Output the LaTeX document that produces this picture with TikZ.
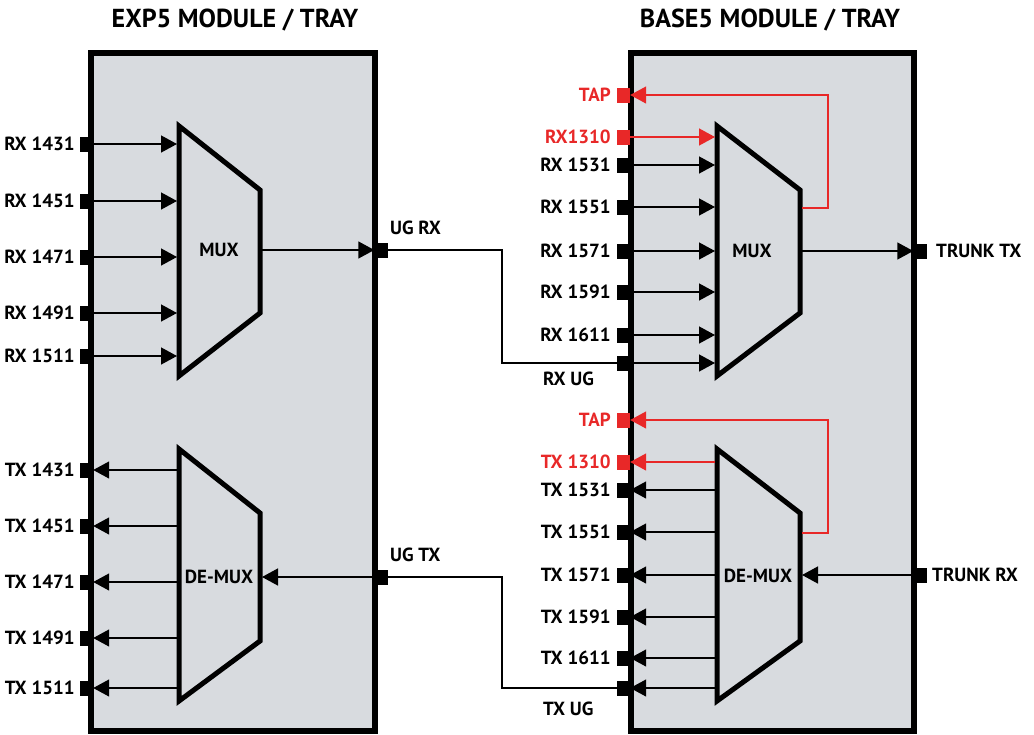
\documentclass[tikz,border=0pt]{standalone}
\usepackage{fontspec}
\setmainfont{PT Sans}
\usetikzlibrary{arrows.meta}
\definecolor{boxfill}{RGB}{216,219,223}
\definecolor{tapred}{RGB}{232,40,40}
\begin{document}
\begin{tikzpicture}[x=1pt,y=-1pt,
  port/.style={rectangle, fill=black, inner sep=0pt, minimum width=13pt, minimum height=15pt},
  redport/.style={port, fill=tapred},
  lbl/.style={font=\bfseries\fontsize{19}{21}\selectfont, inner sep=0pt},
  title/.style={font=\bfseries\fontsize{26}{29}\selectfont, inner sep=0pt},
  tray/.style={line width=6pt, fill=boxfill},
  trap/.style={line width=5pt, fill=boxfill, line join=miter},
  wire/.style={line width=1.4pt},
  arr/.style={wire, -{Triangle[length=16pt,width=17pt]}},
  redarr/.style={arr, draw=tapred},
  redwire/.style={wire, draw=tapred}]
\useasboundingbox (0,0) rectangle (1034,734);

% titles
\node[title] (t1) at (235,20) {EXP5 MODULE / TRAY};
\node[title] (t2) at (770,20) {BASE5 MODULE / TRAY};

% trays
\draw[tray] (91,53) rectangle (375,731);
\draw[tray] (631,53) rectangle (914,731);

% trapezoids
\draw[trap] (179,126) -- (260,190) -- (260,313) -- (179,376) -- cycle;
\draw[trap] (179,449) -- (260,513) -- (260,641) -- (179,701) -- cycle;
\draw[trap] (717,126) -- (800,190) -- (800,313) -- (717,376) -- cycle;
\draw[trap] (717,449) -- (800,513) -- (800,641) -- (717,701) -- cycle;
\node[lbl] (mux1) at (219,250) {MUX};
\node[lbl] (dmux1) at (219,577) {DE-MUX};
\node[lbl] (mux2) at (752,251) {MUX};
\node[lbl] (dmux2) at (758,576) {DE-MUX};

% trapezoid edge coordinates
\coordinate (m1L) at (177,0);
\coordinate (m1R) at (262,0);
\coordinate (d1L) at (177,0);
\coordinate (d1R) at (262,0);
\coordinate (m2L) at (715,0);
\coordinate (m2R) at (802,0);
\coordinate (d2L) at (715,0);
\coordinate (d2R) at (802,0);
\coordinate (loop) at (828,0);
\coordinate (bend) at (502,0);

% ---------- left tray ports ----------
\foreach \n/\y/\t in {1/144/RX 1431, 2/201/RX 1451, 3/257/RX 1471, 4/313/RX 1491, 5/356/RX 1511}{
  \node[port] (lrx\n) at (86.5,\y) {};
  \node[lbl, left=5pt] (lrxl\n) at (lrx\n.west) {\t};
  \draw[arr] (lrx\n.east) -- (lrx\n -| m1L);
}
\foreach \n/\y/\t in {1/470/TX 1431, 2/526/TX 1451, 3/582/TX 1471, 4/638/TX 1491, 5/688/TX 1511}{
  \node[port] (ltx\n) at (86.5,\y) {};
  \node[lbl, left=5pt] (ltxl\n) at (ltx\n.west) {\t};
  \draw[arr] (ltx\n -| d1L) -- (ltx\n.east);
}
\node[port] (ugrx) at (381,250) {};
\node[port] (ugtx) at (381,577) {};
\node[lbl, anchor=west] (ugrxl) at (390,228) {UG RX};
\node[lbl, anchor=west] (ugtxl) at (390,555) {UG TX};
\draw[arr] (ugrx -| m1R) -- (ugrx.west);
\draw[arr] (ugtx.west) -- (ugtx -| d1R);

% ---------- right tray ports ----------
\node[redport] (tap1) at (623.5,95) {};
\node[lbl, left=6pt, text=tapred] (tap1l) at (tap1.west) {TAP};
\node[redport] (rx0) at (623.5,137) {};
\node[lbl, left=6pt, text=tapred] (rx0l) at (rx0.west) {RX1310};
\draw[redarr] (rx0.east) -- (rx0 -| m2L);
\foreach \n/\y/\t in {1/165/RX 1531, 2/207/RX 1551, 3/251/RX 1571, 4/292/RX 1591, 5/335/RX 1611}{
  \node[port] (rrx\n) at (623.5,\y) {};
  \node[lbl, left=6pt] (rrxl\n) at (rrx\n.west) {\t};
  \draw[arr] (rrx\n.east) -- (rrx\n -| m2L);
}
\node[port] (rxug) at (623.5,363) {};
\node[lbl, anchor=west] (rxugl) at (543,379) {RX UG};
\draw[arr] (rxug.east) -- (rxug -| m2L);

\node[redport] (tap2) at (623.5,420) {};
\node[lbl, left=6pt, text=tapred] (tap2l) at (tap2.west) {TAP};
\node[redport] (tx0) at (623.5,462) {};
\node[lbl, left=6pt, text=tapred] (tx0l) at (tx0.west) {TX 1310};
\draw[redarr] (tx0 -| d2L) -- (tx0.east);
\foreach \n/\y/\t in {1/490/TX 1531, 2/532/TX 1551, 3/575/TX 1571, 4/617/TX 1591, 5/658/TX 1611}{
  \node[port] (rtx\n) at (623.5,\y) {};
  \node[lbl, left=6pt] (rtxl\n) at (rtx\n.west) {\t};
  \draw[arr] (rtx\n -| d2L) -- (rtx\n.east);
}
\node[port] (txug) at (623.5,688) {};
\node[lbl, anchor=west] (txugl) at (543,709) {TX UG};
\draw[arr] (txug -| d2L) -- (txug.east);

% trunk ports
\node[port] (trtx) at (920,251) {};
\node[lbl, anchor=west] (trtxl) at (936,251) {TRUNK TX};
\draw[arr] (trtx -| m2R) -- (trtx.west);
\node[port] (trrx) at (920,575) {};
\node[lbl, anchor=west] (trrxl) at (932,575) {TRUNK RX};
\draw[arr] (trrx.west) -- (trrx -| d2R);

% tap loops
\coordinate (tapo1) at (802,208);
\coordinate (tapo2) at (802,533);
\draw[redarr] (tapo1) -- (tapo1 -| loop) |- (tap1.east);
\draw[redarr] (tapo2) -- (tapo2 -| loop) |- (tap2.east);

% inter-tray wires
\draw[wire] (ugrx.east) -- (ugrx -| bend) |- (rxug.west);
\draw[wire] (ugtx.east) -- (ugtx -| bend) |- (txug.west);
\end{tikzpicture}
\end{document}
